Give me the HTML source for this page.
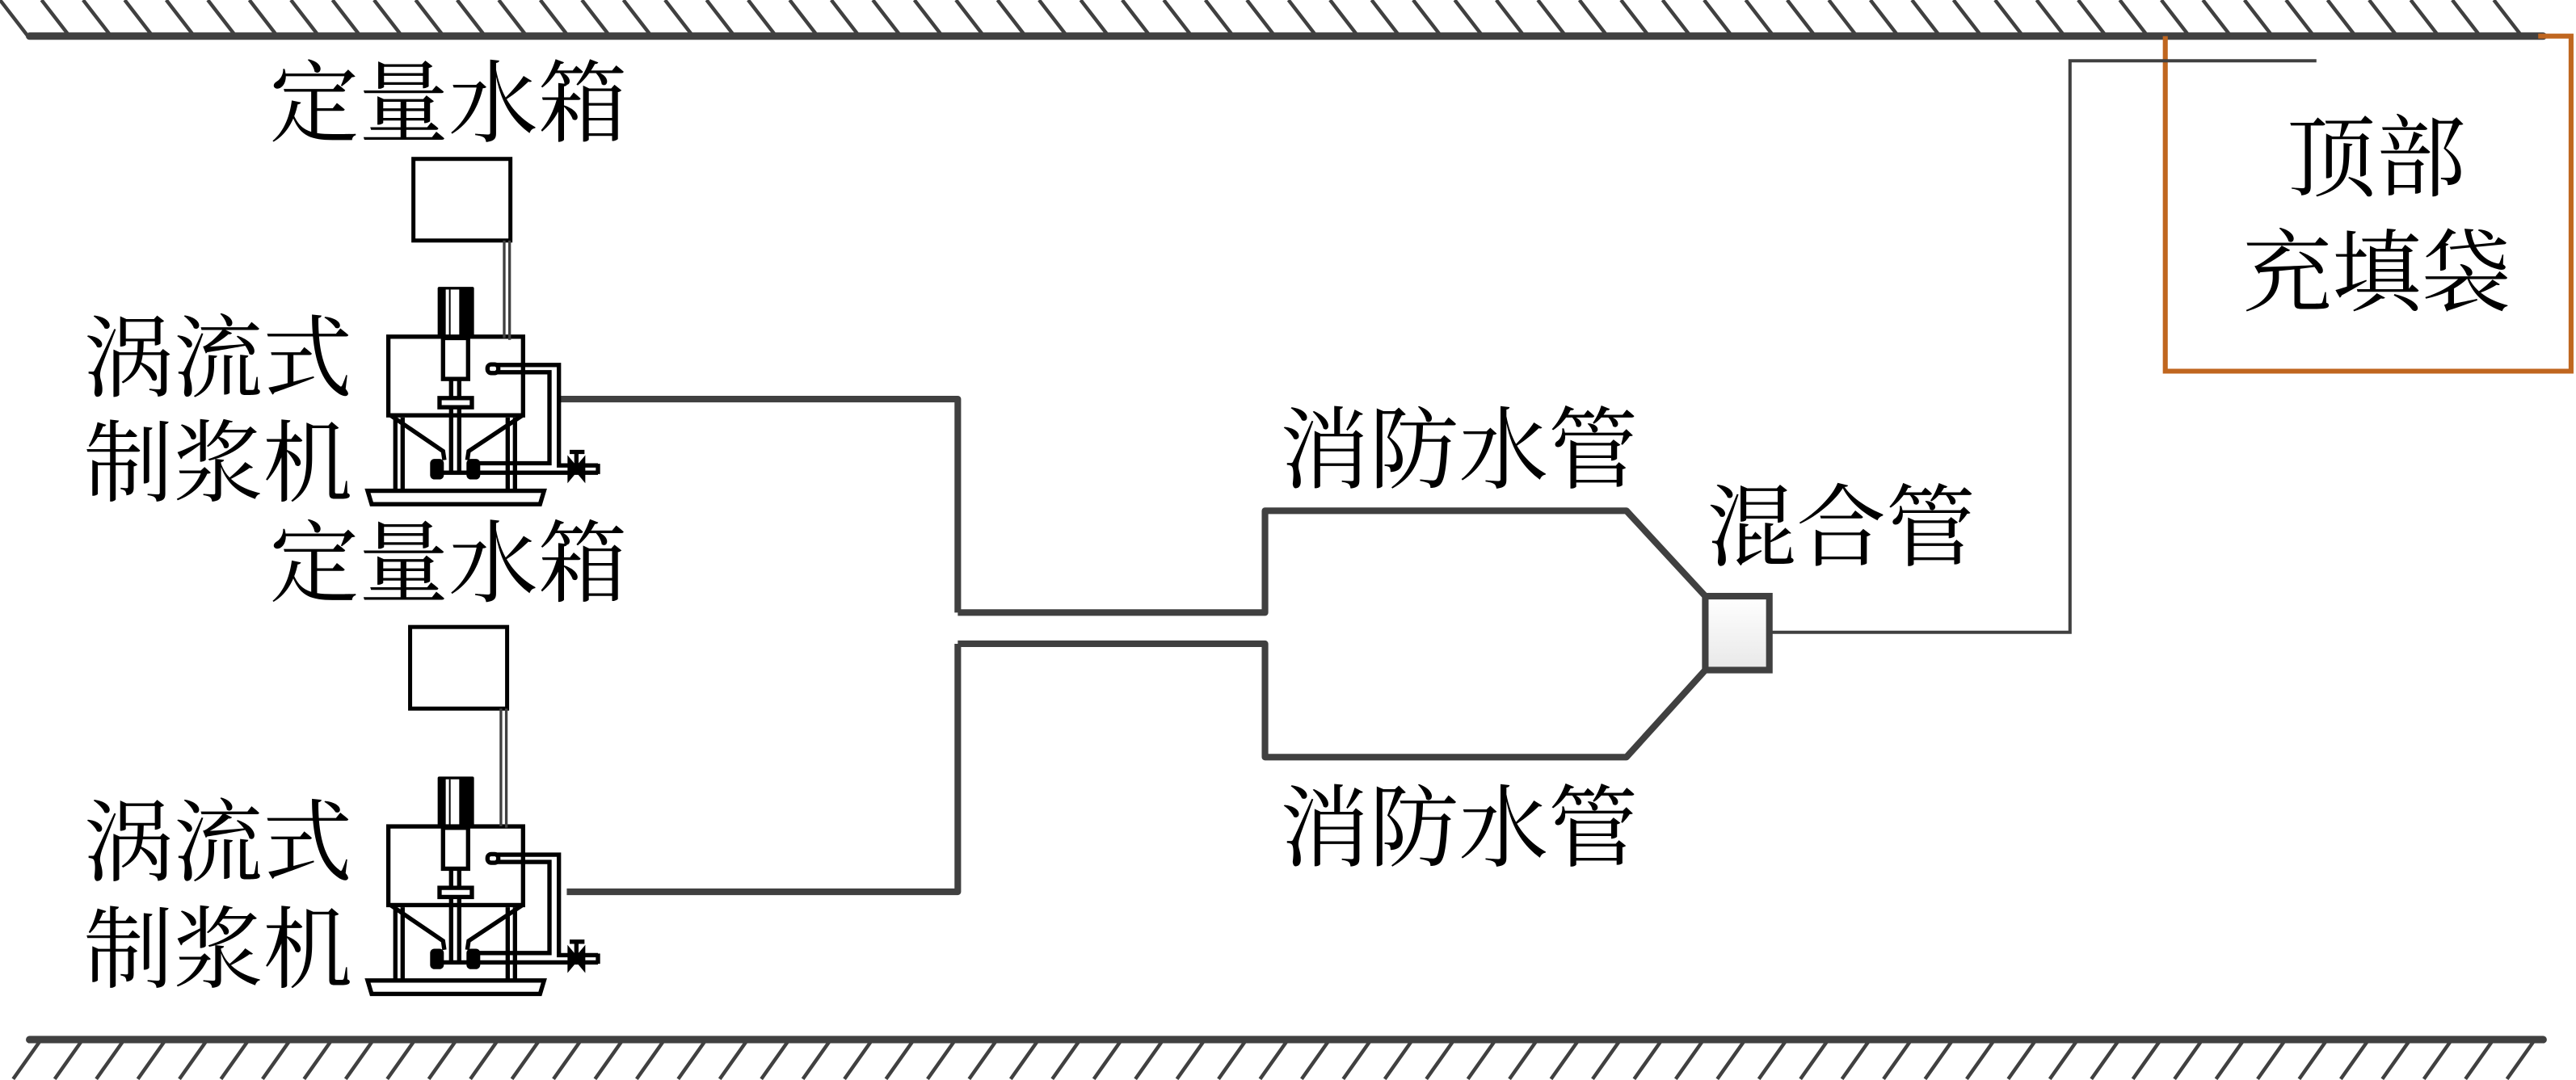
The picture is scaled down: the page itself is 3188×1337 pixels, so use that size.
<!DOCTYPE html>
<html><head><meta charset="utf-8"><style>
html,body{margin:0;padding:0;background:#fff}
svg{display:block}
text{font-family:"Liberation Serif","Noto Serif CJK SC",serif;font-size:54.5px;fill:#000}
</style></head><body>
<svg width="3188" height="1337" viewBox="0 0 1568 657.6" preserveAspectRatio="none" xmlns="http://www.w3.org/2000/svg">
<defs>
<linearGradient id="g" x1="0" y1="0" x2="0" y2="1"><stop offset="0" stop-color="#fff"/><stop offset="1" stop-color="#e8e8e8"/></linearGradient>
<g id="mach" fill="none" stroke="#000" stroke-width="16">
  <rect x="425" y="615" width="135" height="185" fill="#000" stroke="none" rx="6"/>
  <rect x="455" y="625" width="50" height="175" fill="#fff" stroke="none"/>
  <line x1="470" y1="625" x2="470" y2="800" stroke-width="6"/>
  <rect x="242" y="800" width="500" height="292"/>
  <rect x="445" y="805" width="93" height="152" fill="#fff"/>
  <line x1="475" y1="957" x2="475" y2="1300"/>
  <line x1="505" y1="957" x2="505" y2="1300"/>
  <rect x="432" y="1028" width="120" height="34" fill="#fff"/>
  <path d="M640,905 H875 V1278 H1020"/>
  <path d="M640,932 H840 V1270 H560"/>
  <rect x="610" y="903" width="40" height="32" rx="14"/>
  <path d="M250,1092 L445,1225 L450,1258 M740,1092 L540,1225 L535,1258"/>
  <path d="M275,1110 L440,1222 M715,1110 L545,1222" stroke-width="9"/>
  <path d="M268,1100 V1370 M295,1100 V1370 M685,1100 V1370 M712,1100 V1370"/>
  <path d="M165,1372 H820 L805,1422 H180 Z"/>
  <path d="M410,1305 H1020"/>
  <rect x="405" y="1262" width="35" height="60" rx="8" fill="#000"/>
  <rect x="540" y="1262" width="35" height="60" rx="8" fill="#000"/>
  <path d="M915,1262 L965,1322 V1262 L915,1322 Z" fill="#000"/>
  <path d="M940,1230 V1290 M915,1228 H970"/>
  <path d="M1020,1272 V1310"/>
</g>
<g id="tank" fill="none">
  <rect x="335" y="140" width="360" height="303" stroke="#000" stroke-width="15"/>
</g>
</defs>

<g stroke="#404040" stroke-width="2.2" fill="none">
  <path d="M0,0 L17,22 M25.3,0 L42.3,22 M50.6,0 L67.6,22 M75.9,0 L92.9,22 M101.2,0 L118.2,22 M126.5,0 L143.5,22 M151.8,0 L168.8,22 M177.1,0 L194.1,22 M202.4,0 L219.4,22 M227.7,0 L244.7,22 M253,0 L270,22 M278.3,0 L295.3,22 M303.6,0 L320.6,22 M328.9,0 L345.9,22 M354.2,0 L371.2,22 M379.5,0 L396.5,22 M404.8,0 L421.8,22 M430.1,0 L447.1,22 M455.4,0 L472.4,22 M480.7,0 L497.7,22 M506,0 L523,22 M531.3,0 L548.3,22 M556.6,0 L573.6,22 M581.9,0 L598.9,22 M607.2,0 L624.2,22 M632.5,0 L649.5,22 M657.8,0 L674.8,22 M683.1,0 L700.1,22 M708.4,0 L725.4,22 M733.7,0 L750.7,22 M759,0 L776,22 M784.3,0 L801.3,22 M809.6,0 L826.6,22 M834.9,0 L851.9,22 M860.2,0 L877.2,22 M885.5,0 L902.5,22 M910.8,0 L927.8,22 M936.1,0 L953.1,22 M961.4,0 L978.4,22 M986.7,0 L1003.7,22 M1012,0 L1029,22 M1037.3,0 L1054.3,22 M1062.6,0 L1079.6,22 M1087.9,0 L1104.9,22 M1113.2,0 L1130.2,22 M1138.5,0 L1155.5,22 M1163.8,0 L1180.8,22 M1189.1,0 L1206.1,22 M1214.4,0 L1231.4,22 M1239.7,0 L1256.7,22 M1265,0 L1282,22 M1290.3,0 L1307.3,22 M1315.6,0 L1332.6,22 M1340.9,0 L1357.9,22 M1366.2,0 L1383.2,22 M1391.5,0 L1408.5,22 M1416.8,0 L1433.8,22 M1442.1,0 L1459.1,22 M1467.4,0 L1484.4,22 M1492.7,0 L1509.7,22 M1518,0 L1535,22"/>
  <path d="M25,633 L8,657 M50.3,633 L33.3,657 M75.6,633 L58.6,657 M100.9,633 L83.9,657 M126.2,633 L109.2,657 M151.5,633 L134.5,657 M176.8,633 L159.8,657 M202.1,633 L185.1,657 M227.4,633 L210.4,657 M252.7,633 L235.7,657 M278,633 L261,657 M303.3,633 L286.3,657 M328.6,633 L311.6,657 M353.9,633 L336.9,657 M379.2,633 L362.2,657 M404.5,633 L387.5,657 M429.8,633 L412.8,657 M455.1,633 L438.1,657 M480.4,633 L463.4,657 M505.7,633 L488.7,657 M531,633 L514,657 M556.3,633 L539.3,657 M581.6,633 L564.6,657 M606.9,633 L589.9,657 M632.2,633 L615.2,657 M657.5,633 L640.5,657 M682.8,633 L665.8,657 M708.1,633 L691.1,657 M733.4,633 L716.4,657 M758.7,633 L741.7,657 M784,633 L767,657 M809.3,633 L792.3,657 M834.6,633 L817.6,657 M859.9,633 L842.9,657 M885.2,633 L868.2,657 M910.5,633 L893.5,657 M935.8,633 L918.8,657 M961.1,633 L944.1,657 M986.4,633 L969.4,657 M1011.7,633 L994.7,657 M1037,633 L1020,657 M1062.3,633 L1045.3,657 M1087.6,633 L1070.6,657 M1112.9,633 L1095.9,657 M1138.2,633 L1121.2,657 M1163.5,633 L1146.5,657 M1188.8,633 L1171.8,657 M1214.1,633 L1197.1,657 M1239.4,633 L1222.4,657 M1264.7,633 L1247.7,657 M1290,633 L1273,657 M1315.3,633 L1298.3,657 M1340.6,633 L1323.6,657 M1365.9,633 L1348.9,657 M1391.2,633 L1374.2,657 M1416.5,633 L1399.5,657 M1441.8,633 L1424.8,657 M1467.1,633 L1450.1,657 M1492.4,633 L1475.4,657 M1517.7,633 L1500.7,657 M1543,633 L1526,657"/>
  <path d="M18,22 H1548 M18,633 H1548" stroke-width="4.5" stroke-linecap="round"/>
</g>

<path d="M1545,22 H1565 V226 H1318 V22" fill="none" stroke="#C0661F" stroke-width="3"/>
<text x="1392" y="115">顶部</text>
<text x="1365" y="185">充填袋</text>

<path d="M1077,385 H1260 V37 H1410" fill="none" stroke="#404040" stroke-width="2"/>

<g fill="none" stroke="#404040" stroke-width="4" stroke-linejoin="round">
  <path d="M583,373 H770 V311 H990 L1038,363"/>
  <path d="M583,392 H770 V461 H990 L1038,408"/>
  <path d="M340,243 H583 V373"/>
  <path d="M345,543 H583 V392"/>
</g>
<rect x="1038" y="363" width="39" height="45" fill="url(#g)" stroke="#404040" stroke-width="4"/>

<g transform="translate(196.7,73.8) scale(0.164)">
  <use href="#mach"/>
  <use href="#tank"/>
  <path d="M672,443 V805 M692,443 V812" stroke="#404040" stroke-width="10" fill="none"/>
</g>
<g transform="translate(196.7,372) scale(0.164)">
  <use href="#mach"/>
</g>
<g transform="translate(194.7,358.8) scale(0.164)">
  <use href="#tank"/>
  <path d="M672,443 V880 M692,443 V885" stroke="#404040" stroke-width="10" fill="none"/>
</g>

<text x="164" y="82">定量水箱</text>
<text x="51" y="237">涡流式</text>
<text x="51" y="301">制浆机</text>
<text x="164" y="362">定量水箱</text>
<text x="51" y="532">涡流式</text>
<text x="51" y="597">制浆机</text>
<text x="779" y="293">消防水管</text>
<text x="779" y="523">消防水管</text>
<text x="1039" y="340">混合管</text>
</svg>
</body></html>
